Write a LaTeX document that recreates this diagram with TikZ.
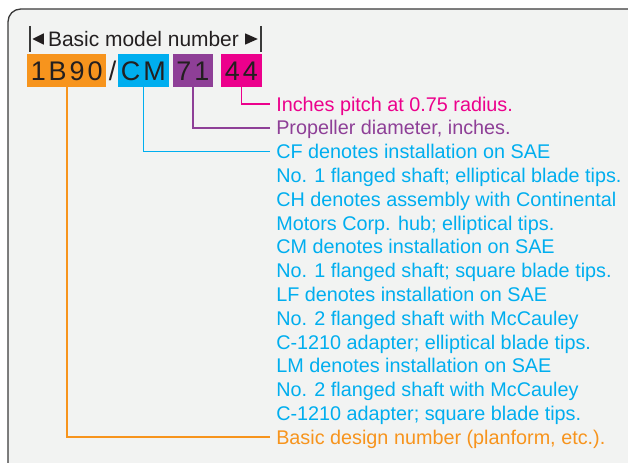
\documentclass[tikz,border=0pt]{standalone}
\usepackage{fontspec}
\setmainfont{Liberation Sans}
\newfontfamily\TagFamily[LetterSpace=11]{Liberation Sans}
\usetikzlibrary{positioning}
\definecolor{TagOrange}{HTML}{F7941D}
\definecolor{TagBlue}{HTML}{00AEEF}
\definecolor{TagPurple}{HTML}{8E3F97}
\definecolor{TagPink}{HTML}{EC008C}
\definecolor{PanelGray}{HTML}{F2F3F2}
\definecolor{FrameInk}{HTML}{3A3A3A}
\definecolor{CodeInk}{HTML}{231F20}
\newcommand{\LabelFont}{\fontsize{14.85pt}{17.85pt}\selectfont}
\newcommand{\CodeFont}{\TagFamily\fontsize{20.2pt}{24pt}\selectfont}
\newcommand{\HeadFont}{\fontsize{15.7pt}{18pt}\selectfont}
\tikzset{
  codebox/.style={inner sep=0pt, minimum height=24.75pt, font=\CodeFont, text=CodeInk,
    text height=14.5pt, text depth=0pt},
  legend/.style={anchor=west, inner xsep=4.5pt, inner ysep=0pt, font=\LabelFont,
    text height=10.7pt, text depth=0pt},
  leader/.style={line width=1.35pt},
  endbar/.style={FrameInk, line width=1.2pt}
}

\begin{document}
\begin{tikzpicture}[x=0.75pt, y=-0.75pt]
  \useasboundingbox (0,0) rectangle (628,463);
  % panel
  \begin{scope}
    \clip (0,0) rectangle (628,463);
    \draw[FrameInk, line width=1pt, fill=PanelGray, rounded corners=9.5pt] (8,9) rectangle (720,480);
  \end{scope}
  % header with bars and arrow heads
  \node[font=\HeadFont, text=CodeInk, inner sep=0pt] (head) at (143.5,39) {Basic model number};
  \draw[endbar] (30,26) -- (30,52);
  \draw[endbar] (260.7,26) -- (260.7,52);
  \fill[CodeInk] (32.5,39) -- (43.8,33.3) -- (43.8,44.7) -- cycle;
  \fill[CodeInk] (257.8,39) -- (245,33.3) -- (245,44.7) -- cycle;
  % model number parts
  \node[codebox, fill=TagOrange, minimum width=59pt] (design) at (66.7,70.7) {1B90};
  \node[codebox] (slash) at (112.5,70.7) {/};
  \node[codebox, fill=TagBlue, minimum width=38.5pt] (mount) at (143.4,70.7) {CM};
  \node[codebox, fill=TagPurple, minimum width=29.8pt] (diam) at (192.9,70.7) {71};
  \node[codebox, fill=TagPink, minimum width=30.5pt] (pitch) at (241.4,70.7) {44};
  % explanations
  \node[legend, text=TagPink] (pitchtxt) at (270,104) {Inches pitch at 0.75 radius.};
  \node[legend, text=TagPurple] (diamtxt) at (270,127.8) {Propeller diameter, inches.};
  \foreach \txt [count=\i] in {
      {CF denotes installation on SAE},
      {No. 1 flanged shaft; elliptical blade tips.},
      {CH denotes assembly with Continental},
      {Motors Corp. hub; elliptical tips.},
      {CM denotes installation on SAE},
      {No. 1 flanged shaft; square blade tips.},
      {LF denotes installation on SAE},
      {No. 2 flanged shaft with McCauley},
      {C-1210 adapter; elliptical blade tips.},
      {LM denotes installation on SAE},
      {No. 2 flanged shaft with McCauley},
      {C-1210 adapter; square blade tips.}}
    \node[legend, text=TagBlue] (mount\i) at (270,127.8+\i*23.8) {\txt};
  \node[legend, text=TagOrange] (designtxt) at (270,437.2) {Basic design number (planform, etc.).};
  % leaders
  \draw[leader, TagPink] (pitch.south) |- (pitchtxt.west);
  \draw[leader, TagPurple] (diam.south) |- (diamtxt.west);
  \draw[leader, TagBlue] (mount.south) |- (mount1.west);
  \draw[leader, TagOrange] (design.south) |- (designtxt.west);
\end{tikzpicture}
\end{document}
